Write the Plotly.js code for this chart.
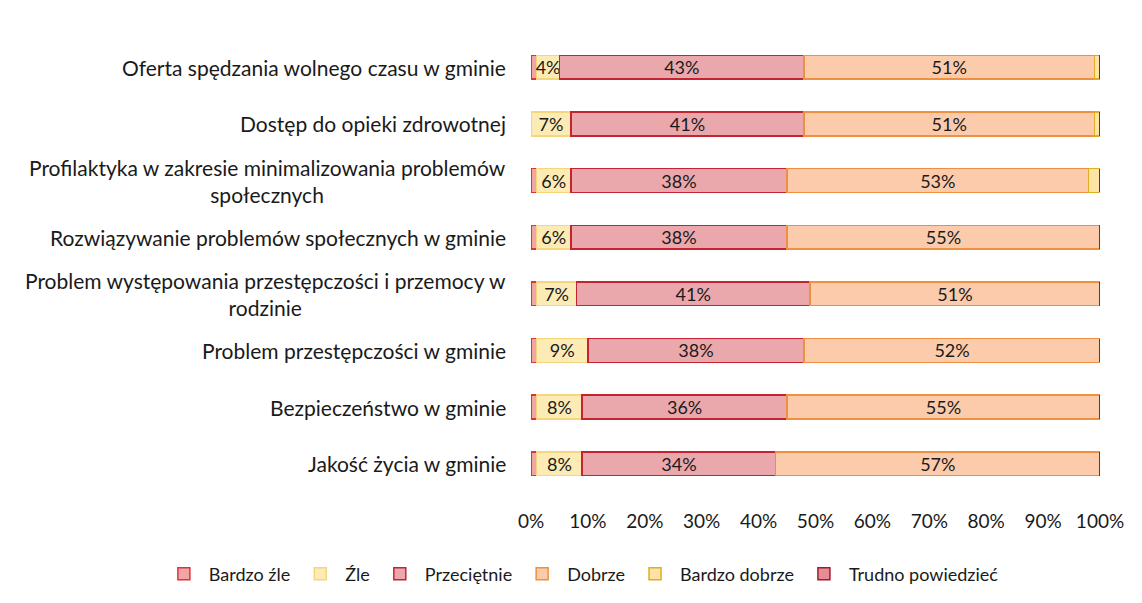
<!DOCTYPE html>
<html><head><meta charset="utf-8">
<script src="https://cdn.plot.ly/plotly-3.0.1.min.js"></script>
<style>body{margin:0;background:#fff}#c{width:1142px;height:603px}</style>
</head><body><div id="c"></div>
<script>
const categories = [
  "Oferta spędzania wolnego czasu w gminie",
  "Dostęp do opieki zdrowotnej",
  "Profilaktyka w zakresie minimalizowania problemów<br>społecznych",
  "Rozwiązywanie problemów społecznych w gminie",
  "Problem występowania przestępczości i przemocy w<br>rodzinie",
  "Problem przestępczości w gminie",
  "Bezpieczeństwo w gminie",
  "Jakość życia w gminie"
];
const bardzoZle   = [1, 0, 1, 1, 1, 1, 1, 1];
const zle         = [4, 7, 6, 6, 7, 9, 8, 8];
const przecietnie = [43, 41, 38, 38, 41, 38, 36, 34];
const dobrze      = [51, 51, 53, 55, 51, 52, 55, 57];
const bardzoDobrze= [1, 1, 2, 0, 0, 0, 0, 0];
const trudno      = [0, 0, 0, 0, 0, 0, 0, 0];
const xTicks = [0,10,20,30,40,50,60,70,80,90,100];

const font = "Lato, 'Open Sans', sans-serif";
const ink = "#1a1a1a";
function pct(a){ return a.map(v => v + "%"); }
function tr(name, vals, fill, line, showText){
  return {
    type: "bar", orientation: "h", name: name, x: vals, y: categories,
    marker: {color: fill, line: {color: line, width: 1.5}},
    text: showText ? pct(vals) : null,
    textposition: showText ? "inside" : "none",
    insidetextanchor: "middle", textangle: 0, constraintext: "none",
    textfont: {family: font, size: 18, color: ink},
    hoverinfo: "name+x"
  };
}
const data = [
  tr("Bardzo źle", bardzoZle, "#f2a5a5", "#e3303a", false),
  tr("Źle", zle, "#fdebb5", "#f6d67a", true),
  tr("Przeciętnie", przecietnie, "#eba8ac", "#c42431", true),
  tr("Dobrze", dobrze, "#fccbab", "#ee9040", true),
  tr("Bardzo dobrze", bardzoDobrze, "#fde3a6", "#dfae22", false),
  tr("Trudno powiedzieć", trudno, "#e48d95", "#a01a2a", false)
];
const annotations = categories.map(c => ({
  x: -0.04, xref: "paper", y: c, yref: "y", text: c, showarrow: false,
  xanchor: "right", yanchor: "middle", align: "center",
  font: {family: font, size: 21, color: ink}
}));
const layout = {
  width: 1142, height: 603,
  margin: {l: 531, r: 42, t: 39, b: 111, autoexpand: false},
  barmode: "stack", bargap: 0.58,
  paper_bgcolor: "#fff", plot_bgcolor: "#fff",
  showlegend: true,
  xaxis: {range: [0, 100], tickvals: xTicks, ticktext: pct(xTicks),
    showgrid: false, zeroline: false, showline: false,
    ticks: "outside", ticklen: 12, tickcolor: "rgba(0,0,0,0)",
    tickfont: {family: font, size: 19, color: ink}, fixedrange: true},
  yaxis: {autorange: "reversed", showticklabels: false, showgrid: false,
    zeroline: false, showline: false, ticks: ""},
  legend: {orientation: "h", xref: "paper", yref: "paper",
    x: -0.654, xanchor: "left", y: -0.181, yanchor: "middle",
    font: {family: font, size: 18, color: ink}, traceorder: "normal",
    itemwidth: 40, tracegroupgap: 0},
  annotations: annotations
};
Plotly.newPlot("c", data, layout, {displayModeBar: false, staticPlot: true});
</script></body></html>
